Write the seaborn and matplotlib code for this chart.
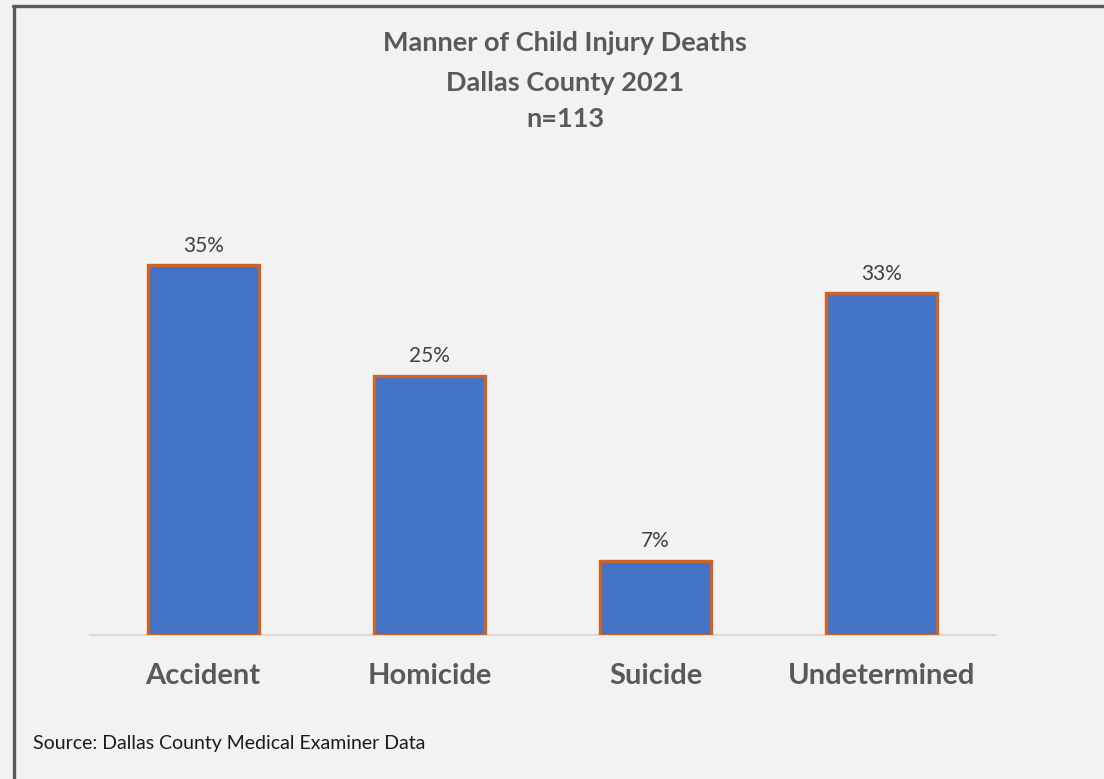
import matplotlib
matplotlib.use("Agg")
import matplotlib.pyplot as plt
from matplotlib.lines import Line2D
import seaborn as sns
import pandas as pd

categories = ["Accident", "Homicide", "Suicide", "Undetermined"]
percent_values = [35.4, 24.8, 7.1, 32.7]
value_labels = ["35%", "25%", "7%", "33%"]
title_lines = ["Manner of Child Injury Deaths", "Dallas County 2021", "n=113"]
source_text = "Source: Dallas County Medical Examiner Data"

sns.set_theme(style="white")
plt.rcParams["font.family"] = ["Lato", "DejaVu Sans"]

W, H = 1104, 779
fig = plt.figure(figsize=(W / 100, H / 100), dpi=100)
fig.patch.set_facecolor("#F2F2F2")

ax = fig.add_axes([90 / W, 1 - 635 / H, 905 / W, 423 / H])
ax.set_facecolor("#F2F2F2")

df = pd.DataFrame({"category": categories, "percent": percent_values})
sns.barplot(data=df, x="category", y="percent", color="#4472C4", saturation=1,
            edgecolor="#C9652B", linewidth=2.4, width=0.49, ax=ax, zorder=3)

ax.set_xlim(-0.5, 3.5)
ax.set_ylim(0, 40.5)
ax.bar_label(ax.containers[0], labels=value_labels, padding=7,
             fontsize=15, color="#404040")

ax.set_xlabel("")
ax.set_ylabel("")
ax.set_yticks([])
for s in ["top", "right", "left"]:
    ax.spines[s].set_visible(False)
ax.spines["bottom"].set_color("#D9D9D9")
ax.spines["bottom"].set_linewidth(1.5)
ax.spines["bottom"].set_zorder(1)
ax.tick_params(axis="x", length=0, pad=20, labelsize=21, labelcolor="#595959")
for t in ax.get_xticklabels():
    t.set_fontweight("bold")

# Title
ys = [43, 83, 119]
for line, y in zip(title_lines, ys):
    fig.text(565 / W, 1 - y / H, line, ha="center", va="center",
             fontsize=19.5, fontweight="bold", color="#595959")

# Source
fig.text(33 / W, 1 - 749 / H, source_text, ha="left", va="baseline",
         fontsize=14, color="#1a1a1a")

# Frame (top and left edges visible)
fig.add_artist(Line2D([13 / W, 1], [1 - 6 / H, 1 - 6 / H], color="#595959",
                      linewidth=2.4, transform=fig.transFigure))
fig.add_artist(Line2D([14 / W, 14 / W], [0, 1 - 6 / H], color="#595959",
                      linewidth=2.4, transform=fig.transFigure))

fig.savefig("out.png", dpi=100, facecolor=fig.get_facecolor())
